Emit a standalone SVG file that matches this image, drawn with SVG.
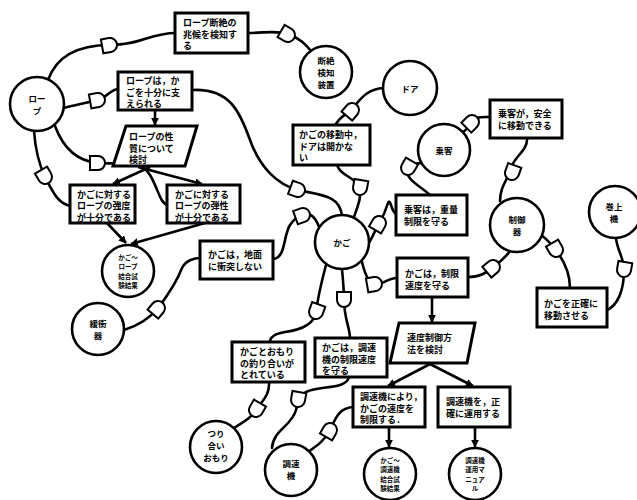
<svg xmlns="http://www.w3.org/2000/svg" xmlns:xlink="http://www.w3.org/1999/xlink" width="637" height="500" viewBox="0 0 637 500">
<style>
.ln{fill:none;stroke:#000;stroke-width:2.6;stroke-linecap:round;stroke-linejoin:round}
.ar{fill:none;stroke:#000;stroke-width:2.6;marker-end:url(#ah)}
.gt{fill:#fff;stroke:#000;stroke-width:2}
.bx{fill:#fff;stroke:#000;stroke-width:3}
.ci{fill:#fff;stroke:#000;stroke-width:2.6}
.t{font-family:"Noto Sans CJK JP","Noto Sans",sans-serif;font-size:9px;font-weight:bold;fill:#000}
.tc{font-family:"Noto Sans CJK JP","Noto Sans",sans-serif;font-size:8.5px;font-weight:bold;fill:#000;text-anchor:middle}
.ts{font-family:"Noto Sans CJK JP","Noto Sans",sans-serif;font-size:6.5px;font-weight:bold;fill:#000;text-anchor:middle}
</style>
<defs>
<marker id="ah" viewBox="0 0 10 10" refX="9" refY="5" markerWidth="3" markerHeight="3" orient="auto" markerUnits="strokeWidth">
<path d="M0,0 L10,5 L0,10 Z" fill="#000"/>
</marker>
<path id="gate" d="M-8,-7 H0 A7,7 0 0 1 0,7 H-8 Z"/>
</defs>
<rect width="637" height="500" fill="#fff"/>
<g id="connectors">
<path class="ln" d="M48,80 C58,52 84,45 110,45 C140,45 150,33 176,33"/>
<path class="ln" d="M248,33 C265,33 276,30 288,34 C300,38 306,45 311,51"/>
<path class="ln" d="M63,108 C75,105 86,103 98,100 C108,97 110,89 119,89"/>
<path class="ar" d="M155,110 L155,125"/>
<path class="ln" d="M34,131 C35,145 38,162 45,177 C53,192 58,204 71,206"/>
<path class="ln" d="M55,126 C62,145 75,161 98,163 C120,165 140,158 150,175 C158,188 160,204 168,205"/>
<path class="ar" d="M150,167 L113,184"/>
<path class="ar" d="M138,167 L202,184"/>
<path class="ar" d="M107,223 L126,243"/>
<path class="ar" d="M205,223 L131,244"/>
<path class="ln" d="M192,90 C230,88 240,112 250,140 C260,168 278,185 298,190 C320,195 340,195 342,216"/>
<path class="ln" d="M273,259 C286,258 283,236 290,225 C295,218 299,215 304,214 C314,213 317,222 320,229"/>
<path class="ln" d="M337,165 C340,175 352,176 358,185 C363,195 358,205 354,217"/>
<path class="ln" d="M335,126 C338,118 345,115 351,110 C360,100 366,89 384,88"/>
<path class="ln" d="M366,247 C372,240 375,230 379,223 C384,215 386,210 388,203 C391,197 391,214 397,214"/>
<path class="ln" d="M362,262 C365,275 369,283 375,284 C383,286 386,278 397,278"/>
<path class="ln" d="M326,265 C322,280 318,296 316,312 C314,325 300,330 285,332 C273,334 270,338 270,342"/>
<path class="ln" d="M342,269 C343,280 344,290 344,300 C344,318 350,328 350,338"/>
<path class="ln" d="M269,382 C270,395 262,401 256,410 C251,418 245,421 234,428"/>
<path class="ln" d="M349,377 C346,390 320,385 306,392 C299,396 298,403 296,410 C292,426 273,430 272,448"/>
<path class="ln" d="M308,452 C318,445 325,440 330,430 C335,420 338,408 353,407"/>
<path class="ar" d="M432,297 L432,322"/>
<path class="ar" d="M430,364 L388,386"/>
<path class="ar" d="M430,364 L473,386"/>
<path class="ar" d="M389,427 L389,447"/>
<path class="ar" d="M475,427 L475,447"/>
<path class="ln" d="M422,163 C417,163 412,164 408,168 C403,178 420,186 430,195"/>
<path class="ln" d="M462,133 C467,129 470,126 472,122 C476,116 482,117 491,117"/>
<path class="ln" d="M527,138 C528,150 515,156 512,166 C508,180 500,186 500,201"/>
<path class="ln" d="M468,277 C480,277 486,273 493,267 C500,262 505,258 510,251"/>
<path class="ln" d="M541,235 C548,240 552,245 556,250 C565,262 570,275 570,288"/>
<path class="ln" d="M616,238 C617,250 624,258 624,270 C624,290 618,305 607,310"/>
<path class="ln" d="M124,330 C140,325 150,318 158,308 C168,295 177,281 182,268 C186,260 195,258 200,258"/>
<g class="gt">
<use xlink:href="#gate" transform="translate(110,45) rotate(-10)"/>
<use xlink:href="#gate" transform="translate(288,35) rotate(30)"/>
<use xlink:href="#gate" transform="translate(98,100) rotate(-10)"/>
<use xlink:href="#gate" transform="translate(45,177) rotate(60)"/>
<use xlink:href="#gate" transform="translate(98,163) rotate(0)"/>
<use xlink:href="#gate" transform="translate(298,190) rotate(20)"/>
<use xlink:href="#gate" transform="translate(303,215) rotate(-20)"/>
<use xlink:href="#gate" transform="translate(360,188) rotate(100)"/>
<use xlink:href="#gate" transform="translate(352,110) rotate(-50)"/>
<use xlink:href="#gate" transform="translate(379,223) rotate(-60)"/>
<use xlink:href="#gate" transform="translate(375,284) rotate(-10)"/>
<use xlink:href="#gate" transform="translate(316,312) rotate(110)"/>
<use xlink:href="#gate" transform="translate(344,300) rotate(90)"/>
<use xlink:href="#gate" transform="translate(256,410) rotate(120)"/>
<use xlink:href="#gate" transform="translate(298,400) rotate(100)"/>
<use xlink:href="#gate" transform="translate(330,430) rotate(-60)"/>
<use xlink:href="#gate" transform="translate(408,168) rotate(120)"/>
<use xlink:href="#gate" transform="translate(472,122) rotate(-45)"/>
<use xlink:href="#gate" transform="translate(512,173) rotate(110)"/>
<use xlink:href="#gate" transform="translate(493,267) rotate(-40)"/>
<use xlink:href="#gate" transform="translate(556,250) rotate(60)"/>
<use xlink:href="#gate" transform="translate(624,270) rotate(100)"/>
<use xlink:href="#gate" transform="translate(158,308) rotate(-50)"/>
</g>
</g>
<g id="n-rope"><circle class="ci" cx="37" cy="104" r="27"/><text class="tc" x="37" y="102">ロー</text><text class="tc" x="37" y="114">プ</text></g>
<g id="n-dansetsu"><circle class="ci" cx="326" cy="72" r="26"/><text class="tc" x="326" y="64">断絶</text><text class="tc" x="326" y="76">検知</text><text class="tc" x="326" y="88">装置</text></g>
<g id="n-door"><circle class="ci" cx="410" cy="88" r="27"/><text class="tc" x="410" y="92">ドア</text></g>
<g id="n-jokyaku"><circle class="ci" cx="444" cy="150" r="26"/><text class="tc" x="444" y="154">乗客</text></g>
<g id="n-kago"><circle class="ci" cx="342" cy="242" r="27"/><text class="tc" x="342" y="246">かご</text></g>
<g id="n-seigyo"><circle class="ci" cx="517" cy="225" r="27"/><text class="tc" x="517" y="223">制御</text><text class="tc" x="517" y="235">器</text></g>
<g id="n-makiage"><circle class="ci" cx="615" cy="212" r="26"/><text class="tc" x="614" y="210">巻上</text><text class="tc" x="614" y="222">機</text></g>
<g id="n-test1"><circle class="ci" cx="128" cy="271" r="26"/><text class="ts" x="128" y="259.5">かご～</text><text class="ts" x="128" y="269">ロープ</text><text class="ts" x="128" y="278.5">結合試</text><text class="ts" x="128" y="288">験結果</text></g>
<g id="n-kanshouki"><circle class="ci" cx="98" cy="329" r="26"/><text class="tc" x="98" y="327">緩衝</text><text class="tc" x="98" y="339">器</text></g>
<g id="n-tsuriai"><circle class="ci" cx="216" cy="447" r="26"/><text class="tc" x="216" y="437">つり</text><text class="tc" x="216" y="449">合い</text><text class="tc" x="216" y="461">おもり</text></g>
<g id="n-chousoku"><circle class="ci" cx="291" cy="470" r="26"/><text class="tc" x="291" y="467">調速</text><text class="tc" x="291" y="479">機</text></g>
<g id="n-test2"><circle class="ci" cx="390" cy="474" r="26"/><text class="ts" x="390" y="462.5">かご～</text><text class="ts" x="390" y="472">調速機</text><text class="ts" x="390" y="481.5">結合試</text><text class="ts" x="390" y="491">験結果</text></g>
<g id="n-manual"><circle class="ci" cx="475" cy="474" r="26"/><text class="ts" x="475" y="462.5">調速機</text><text class="ts" x="475" y="472">運用マ</text><text class="ts" x="475" y="481.5">ニュア</text><text class="ts" x="475" y="491">ル</text></g>
<g id="b-kenchi"><rect class="bx" x="175" y="13" width="73" height="40"/><text class="t" x="183" y="26">ロープ断絶の</text><text class="t" x="183" y="37.5">兆候を検知す</text><text class="t" x="183" y="49">る</text></g>
<g id="b-sasaeru"><rect class="bx" x="118" y="72" width="74" height="38"/><text class="t" x="126" y="84">ロープは，か</text><text class="t" x="126" y="95.5">ごを十分に支</text><text class="t" x="126" y="107">えられる</text></g>
<g id="p-seishitsu"><polygon class="bx" points="126,126 197,126 185,166 113,166"/><text class="t" x="129" y="140">ロープの性</text><text class="t" x="129" y="151.5">質について</text><text class="t" x="129" y="163">検討</text></g>
<g id="b-kyoudo"><rect class="bx" x="70" y="185" width="65" height="38"/><text class="t" x="77" y="197.5">かごに対する</text><text class="t" x="77" y="209">ロープの強度</text><text class="t" x="77" y="220.5">が十分である</text></g>
<g id="b-dansei"><rect class="bx" x="167" y="185" width="73" height="38"/><text class="t" x="175" y="197.5">かごに対する</text><text class="t" x="175" y="209">ロープの弾性</text><text class="t" x="175" y="220.5">が十分である</text></g>
<g id="b-jimen"><rect class="bx" x="200" y="241" width="73" height="38"/><text class="t" x="208" y="258">かごは，地面</text><text class="t" x="208" y="269.5">に衝突しない</text></g>
<g id="b-door"><rect class="bx" x="293" y="125" width="77" height="40"/><text class="t" x="299" y="138">かごの移動中，</text><text class="t" x="299" y="149.5">ドアは開かな</text><text class="t" x="299" y="161">い</text></g>
<g id="b-anzen"><rect class="bx" x="490" y="100" width="72" height="38"/><text class="t" x="498" y="117">乗客が，安全</text><text class="t" x="498" y="128.5">に移動できる</text></g>
<g id="b-juryo"><rect class="bx" x="396" y="195" width="71" height="40"/><text class="t" x="404" y="213">乗客は，重量</text><text class="t" x="404" y="224.5">制限を守る</text></g>
<g id="b-seigen"><rect class="bx" x="397" y="258" width="71" height="39"/><text class="t" x="405" y="277">かごは，制限</text><text class="t" x="405" y="288.5">速度を守る</text></g>
<g id="b-seikaku"><rect class="bx" x="537" y="288" width="70" height="39"/><text class="t" x="544" y="307">かごを正確に</text><text class="t" x="544" y="318.5">移動させる</text></g>
<g id="p-sokudo"><polygon class="bx" points="399,323 475,323 467,363 390,363"/><text class="t" x="407" y="341">速度制御方</text><text class="t" x="407" y="352.5">法を検討</text></g>
<g id="b-tsuriai"><rect class="bx" x="232" y="342" width="73" height="40"/><text class="t" x="240" y="355">かごとおもり</text><text class="t" x="240" y="366.5">の釣り合いが</text><text class="t" x="240" y="378">とれている</text></g>
<g id="b-chousokuseigen"><rect class="bx" x="315" y="338" width="72" height="39"/><text class="t" x="322" y="351">かごは，調速</text><text class="t" x="322" y="362.5">機の制限速度</text><text class="t" x="322" y="374">を守る</text></g>
<g id="b-chousokuniyori"><rect class="bx" x="353" y="387" width="72" height="40"/><text class="t" x="360" y="400">調速機により，</text><text class="t" x="360" y="411.5">かごの速度を</text><text class="t" x="360" y="423">制限する．</text></g>
<g id="b-unyou"><rect class="bx" x="438" y="387" width="72" height="40"/><text class="t" x="446" y="405">調速機を，正</text><text class="t" x="446" y="416.5">確に運用する</text></g>
</svg>
